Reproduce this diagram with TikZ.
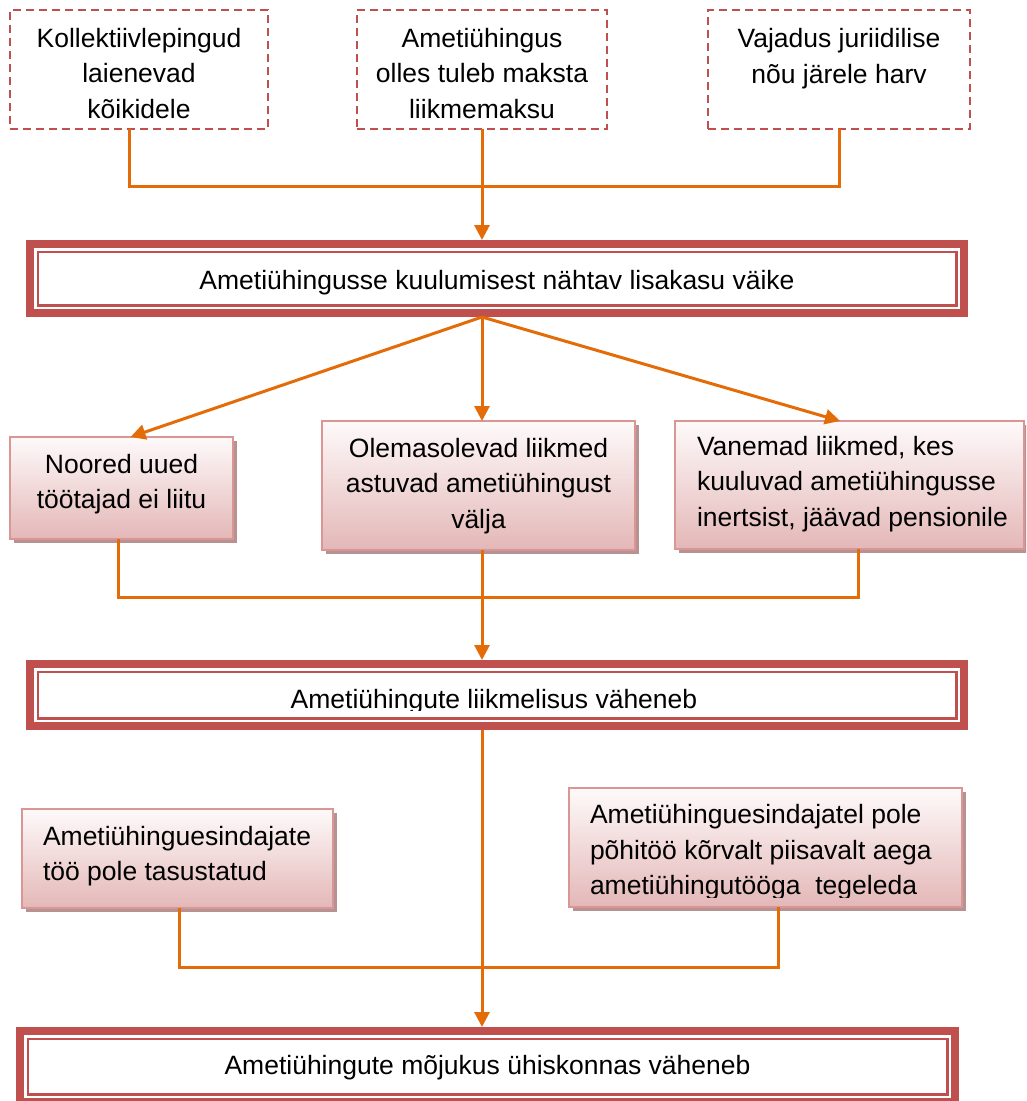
\documentclass[tikz,border=0pt]{standalone}
\usepackage{fontspec}
\setmainfont{Liberation Sans}
\usetikzlibrary{arrows.meta,shadows}

\definecolor{framered}{RGB}{192,80,77}
\definecolor{flow}{RGB}{227,108,9}
\definecolor{pinkedge}{RGB}{217,150,148}
\definecolor{pinktop}{RGB}{254,250,250}
\definecolor{pinkbot}{RGB}{228,183,183}
\definecolor{boxshade}{RGB}{182,146,146}

\tikzset{
  dashbox/.style={draw=framered, line width=2pt, dash pattern=on 8pt off 5pt,
    inner sep=0pt, outer sep=0pt},
  pinkbox/.style={draw=pinkedge, line width=1.5pt, inner sep=0pt, outer sep=0pt,
    shading=axis, top color=pinktop, bottom color=pinkbot,
    drop shadow={shadow xshift=4pt, shadow yshift=-4pt, fill=boxshade, opacity=1}},
  framebox/.style={draw=framered, line width=8pt, fill=white, inner sep=0pt, outer sep=0pt,
    path picture={\draw[framered, line width=2.5pt]
      ([shift={(7.75pt,-7.75pt)}]path picture bounding box.north west) rectangle
      ([shift={(-7.75pt,7.75pt)}]path picture bounding box.south east);}},
  txt/.style={font=\fontsize{26.5}{35.5}\selectfont, inner sep=0pt, outer sep=0pt, align=center},
  ltxt/.style={txt, align=left},
  link/.style={draw=flow, line width=3pt},
  arrow/.style={link, -{Triangle[length=15pt, width=15pt]}},
}

\begin{document}
\begin{tikzpicture}[x=1pt, y=-1pt]
\useasboundingbox (0,0) rectangle (1026,1101);
\clip (0,0) rectangle (1026,1101);

% top row: reasons (text nodes are placed by the baseline of their last line)
\node[dashbox, minimum width=258, minimum height=119, anchor=north west] (t1) at (10,10) {};
\node[dashbox, minimum width=250, minimum height=119, anchor=north west] (t2) at (357,10) {};
\node[dashbox, minimum width=262, minimum height=119, anchor=north west] (t3) at (708,10) {};
\node[txt, anchor=base] (t1l) at (139,118) {Kollektiivlepingud\\laienevad\\kõikidele};
\node[txt, anchor=base] (t2l) at (482,118) {Ametiühingus\\olles tuleb maksta\\liikmemaksu};
\node[txt, anchor=base] (t3l) at (839,83) {Vajadus juriidilise\\nõu järele harv};

% first framed statement
\node[framebox, minimum width=934, minimum height=69, anchor=north west] (b1) at (30,244) {};
\node[txt, anchor=base] (b1l) at (497,289) {Ametiühingusse kuulumisest nähtav lisakasu väike};

% second row: consequences
\node[pinkbox, minimum width=223, minimum height=102, anchor=north west] (m1) at (10,437) {};
\node[pinkbox, minimum width=313, minimum height=129, anchor=north west] (m2) at (322,421) {};
\node[pinkbox, minimum width=349, minimum height=128, anchor=north west] (m3) at (675,421) {};
\node[txt, anchor=base] (m1l) at (121.5,508.5) {Noored uued\\töötajad ei liitu};
\node[txt, anchor=base] (m2l) at (478.5,528) {Olemasolevad liikmed\\astuvad ametiühingust\\välja};
\node[ltxt, anchor=base west] (m3l) at (697,526) {Vanemad liikmed, kes\\kuuluvad ametiühingusse\\inertsist, jäävad pensionile};

% second framed statement, its text cut at the lower text margin
\node[framebox, minimum width=934, minimum height=62, anchor=north west] (b2) at (30,664) {};
\begin{scope}
  \clip (40,674) rectangle (955,710.5);
  \node[txt, anchor=base] (b2l) at (494,708) {Ametiühingute liikmelisus väheneb};
\end{scope}

% third row: representatives
\node[pinkbox, minimum width=311, minimum height=99, anchor=north west] (n1) at (22,809) {};
\node[pinkbox, minimum width=393, minimum height=119, anchor=north west] (n2) at (569,788) {};
\node[ltxt, anchor=base west] (n1l) at (43,880.5) {Ametiühinguesindajate\\töö pole tasustatud};
\begin{scope}
  \clip (575,792) rectangle (958,897);
  \node[ltxt, anchor=base west] (n2l) at (590,894.5) {Ametiühinguesindajatel pole\\põhitöö kõrvalt piisavalt aega\\ametiühingutööga~ tegeleda};
\end{scope}

% final framed statement
\node[framebox, minimum width=935, minimum height=71, anchor=north west] (b3) at (20,1031) {};
\node[txt, anchor=base] (b3l) at (487.5,1074) {Ametiühingute mõjukus ühiskonnas väheneb};

% junction points of the connectors
\coordinate (j1) at (482,186);
\coordinate (s1) at (482,317);
\coordinate (j2) at (482,597);
\coordinate (j3) at (482,967);

% connectors
\draw[link] ([xshift=-10pt]t1.south) |- (j1) -| (t3.south);
\draw[arrow] (t2.south) -- ([yshift=4pt]t2.south |- b1.north);

\draw[arrow] (s1) -- ([xshift=9pt]m1.north);
\draw[arrow] (s1) -- (s1 |- m2.north);
\draw[arrow] (s1) -- ([xshift=-9.5pt]m3.north);

\draw[link] ([xshift=-3.5pt]m1.south) |- (j2) -| ([xshift=8.5pt]m3.south);
\draw[arrow] (m2.south -| j2) -- ([yshift=4pt]j2 |- b2.north);

\draw[link] ([xshift=1.5pt]n1.south) |- (j3) -| ([xshift=12.5pt]n2.south);
\draw[arrow] ([yshift=-4pt]b2.south -| j3) -- ([yshift=4pt]j3 |- b3.north);
\end{tikzpicture}
\end{document}
